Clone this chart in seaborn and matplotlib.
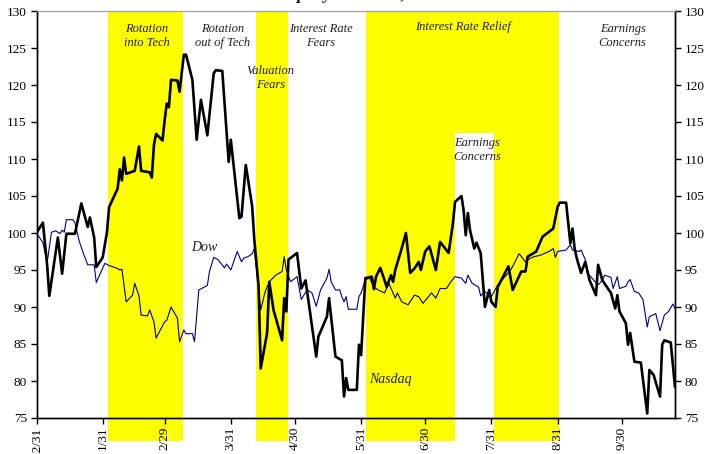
import pandas as pd
import matplotlib.pyplot as plt
import seaborn as sns

# days after 12/31/1999, index level (12/31/1999 = 100)
nasdaq_days = [0, 3, 5, 6, 8, 10, 12, 14, 18, 21, 24, 25, 27, 28, 31, 33, 34, 38, 39, 40,
               41, 42, 46, 48, 49, 53, 54, 55, 56, 59, 60, 61, 62, 63, 66, 67, 69, 70, 73, 75,
               77, 80, 83, 84, 87, 90, 91, 95, 96, 98, 101, 102, 104, 105, 108, 109, 111, 115,
               116, 117, 118, 122, 124, 126, 131, 132, 136, 137, 140, 143, 144, 145, 146, 150,
               151, 152, 154, 157, 158, 159, 161, 163, 164, 166, 167, 168, 171, 173, 175, 177,
               179, 180, 182, 184, 187, 189, 193, 195, 196, 199, 200, 201, 202, 203, 205, 206,
               208, 210, 212, 213, 215, 216, 221, 223, 227, 229, 230, 234, 237, 242, 244, 245,
               248, 250, 251, 252, 253, 255, 257, 259, 262, 263, 265, 269, 271, 272, 273, 276,
               277, 278, 280, 283, 286, 287, 289, 292, 293, 294, 297, 299]
nasdaq_vals = [100.0, 101.4, 95.6, 91.5, 95.4, 99.4, 94.5, 99.9, 99.9, 104.0, 100.8, 102.1, 99.4,
               95.4, 96.7, 100.1, 103.5, 106.0, 108.6, 107.1, 110.2, 108.0, 108.4, 111.7, 108.4,
               108.2, 107.5, 111.9, 113.4, 112.5, 115.2, 117.5, 117.0, 120.7, 120.6, 119.1, 124.1,
               124.1, 120.7, 112.6, 118.0, 113.2, 121.6, 122.0, 121.9, 109.6, 112.6, 102.0, 102.2,
               109.2, 103.6, 99.1, 92.8, 81.7, 86.5, 93.4, 89.6, 85.5, 91.2, 89.4, 96.4, 97.3,
               92.5, 93.6, 83.3, 86.0, 88.7, 91.2, 83.3, 82.8, 77.9, 80.4, 78.8, 78.8, 84.9, 83.5,
               93.9, 94.1, 92.4, 94.1, 95.3, 93.6, 92.7, 94.3, 93.4, 95.0, 97.9, 100.0, 94.6,
               95.2, 96.1, 95.0, 97.5, 98.2, 95.0, 98.8, 97.3, 101.3, 104.2, 105.0, 103.1, 99.7,
               102.7, 100.4, 97.9, 98.7, 97.3, 90.0, 92.3, 90.7, 90.0, 92.7, 95.5, 92.3, 94.8,
               94.8, 96.8, 97.5, 99.5, 100.6, 103.5, 104.1, 104.1, 98.6, 100.6, 97.9, 96.6, 94.6,
               96.1, 93.6, 91.6, 95.7, 93.6, 91.9, 89.8, 91.6, 89.4, 87.8, 84.9, 86.5, 82.6, 82.5,
               75.6, 81.5, 80.8, 77.9, 84.9, 85.5, 85.2, 79.2]

dow_days = [0, 3, 5, 7, 9, 11, 12, 13, 14, 17, 18, 20, 22, 24, 27, 28, 32, 34, 38, 39,
            40, 41, 42, 45, 46, 48, 49, 52, 53, 55, 56, 60, 61, 63, 66, 67, 69, 70, 73, 74,
            76, 80, 81, 83, 85, 88, 89, 91, 94, 96, 97, 99, 101, 102, 105, 107, 109, 112, 115,
            116, 117, 119, 122, 124, 126, 127, 129, 131, 133, 136, 137, 138, 140, 142, 143,
            144, 145, 146, 150, 151, 152, 154, 156, 158, 160, 163, 165, 168, 169, 171, 174,
            177, 179, 181, 185, 187, 189, 192, 194, 196, 199, 201, 202, 204, 207, 208, 210,
            212, 213, 216, 220, 222, 223, 226, 229, 230, 233, 236, 240, 242, 243, 244, 248,
            250, 251, 254, 255, 257, 258, 261, 263, 265, 266, 269, 270, 272, 273, 276, 277,
            278, 280, 282, 284, 286, 287, 290, 292, 294, 296, 298, 299]
dow_vals = [100.0, 98.7, 96.0, 100.1, 100.3, 99.9, 100.4, 100.1, 101.8, 101.8, 101.4, 98.9,
            97.2, 95.7, 95.7, 93.3, 95.9, 95.6, 95.2, 95.0, 95.1, 92.9, 90.7, 91.6, 93.2, 91.5,
            88.9, 88.8, 89.6, 88.0, 85.8, 88.0, 88.2, 90.0, 88.5, 85.3, 86.9, 86.4, 86.4, 85.3,
            92.3, 92.9, 94.8, 96.7, 96.4, 95.3, 95.8, 95.0, 97.5, 96.1, 96.6, 96.8, 97.2, 97.9,
            89.6, 92.0, 93.4, 94.3, 94.8, 96.8, 95.0, 93.4, 94.1, 91.0, 92.0, 92.3, 91.9, 90.1,
            92.3, 93.9, 95.1, 93.4, 92.3, 92.3, 91.4, 90.7, 91.4, 89.7, 89.7, 91.4, 91.9, 93.7,
            93.9, 92.7, 92.3, 91.9, 93.2, 91.2, 91.9, 90.7, 90.3, 91.6, 91.4, 90.5, 91.9, 91.2,
            92.5, 92.5, 93.4, 94.1, 93.9, 93.2, 94.3, 93.2, 92.7, 91.5, 92.1, 91.5, 91.4, 93.0,
            94.3, 95.0, 95.5, 97.2, 96.1, 96.4, 96.8, 97.0, 97.5, 97.9, 96.7, 97.5, 97.7, 98.4,
            97.7, 97.5, 97.7, 96.4, 94.6, 93.6, 93.0, 93.6, 94.3, 94.0, 92.5, 94.1, 92.5, 92.8,
            93.4, 93.7, 92.1, 91.9, 91.0, 87.3, 88.7, 89.1, 86.8, 88.9, 89.4, 90.4, 89.8]

# market phases (days after 12/31/1999), shaded yellow
phase_start = [33.5, 102.8, 154.3, 214.3]
phase_end = [68.6, 117.8, 196.0, 244.7]
# july gap: only the top strip above this level stays yellow
gap_start, gap_end, gap_floor = 196.0, 214.3, 113.5

tick_dates = ['1999-12-31', '2000-01-31', '2000-02-29', '2000-03-31', '2000-04-30',
              '2000-05-31', '2000-06-30', '2000-07-31', '2000-08-31', '2000-09-30']
tick_labels = ['12/31', '1/31', '2/29', '3/31', '4/30', '5/31', '6/30', '7/31', '8/31', '9/30']

base = pd.Timestamp('1999-12-31')


def to_date(d):
    return base + pd.to_timedelta(d, unit='D')


nasdaq = pd.DataFrame({'date': to_date(pd.Series(nasdaq_days, dtype=float)), 'level': nasdaq_vals})
dow = pd.DataFrame({'date': to_date(pd.Series(dow_days, dtype=float)), 'level': dow_vals})

sns.set_theme(style='ticks')
plt.rcParams['font.family'] = ['Liberation Serif', 'DejaVu Serif']

fig = plt.figure(figsize=(7.15, 4.54), dpi=100)
ax = fig.add_axes([36.5 / 715, 1 - 418 / 454, 638.5 / 715, 407 / 454])

sns.lineplot(data=dow, x='date', y='level', ax=ax, color='#000080', lw=0.8, zorder=3)
sns.lineplot(data=nasdaq, x='date', y='level', ax=ax, color='black', lw=1.9, zorder=4)

ylo, yhi = 75, 130
for s, e in zip(phase_start, phase_end):
    ax.axvspan(to_date(s), to_date(e), ymin=-0.0565, ymax=1, color='#ffff00', lw=0,
               clip_on=False, zorder=0)
ax.axvspan(to_date(gap_start), to_date(gap_end), ymin=(gap_floor - ylo) / (yhi - ylo), ymax=1,
           color='#ffff00', lw=0, zorder=0)

ax.set_xlim(base, to_date(299))
ax.set_ylim(ylo, yhi)
ax.set_yticks(range(ylo, yhi + 1, 5))
ax.set_xticks(pd.to_datetime(tick_dates))
ax.set_xticklabels(tick_labels, rotation=90)
ax.set_xlabel('')
ax.set_ylabel('')
ax.tick_params(axis='both', direction='out', length=4, width=1, color='black',
               labelcolor='black')
ax.tick_params(axis='x', pad=2, labelsize=9.5)
ax.tick_params(axis='y', pad=3, labelsize=9.5)

ax2 = ax.twinx()
ax2.set_ylim(ylo, yhi)
ax2.set_yticks(range(ylo, yhi + 1, 5))
ax2.tick_params(axis='y', direction='out', length=4, width=1, color='black',
                labelsize=9.5, labelcolor='black', pad=3)

for a in (ax, ax2):
    for side in ('left', 'right', 'bottom'):
        a.spines[side].set_color('black')
        a.spines[side].set_linewidth(1)
    a.spines['top'].set_color('#a0a0a0')
    a.spines['top'].set_linewidth(0.8)

notes = [
    (0.173, 0.9386, 'Rotation\ninto Tech'),
    (0.291, 0.9386, 'Rotation\nout of Tech'),
    (0.3665, 0.835, 'Valuation\nFears'),
    (0.4456, 0.9386, 'Interest Rate\nFears'),
    (0.668, 0.961, 'Interest Rate Relief'),
    (0.918, 0.9386, 'Earnings\nConcerns'),
    (0.6907, 0.6585, 'Earnings\nConcerns'),
    (0.2623, 0.4177, 'Dow'),
    (0.555, 0.0934, 'Nasdaq'),
]
for fx, fy, txt in notes:
    size = 10 if txt in ('Dow', 'Nasdaq') else 9
    ax.text(fx, fy, txt, transform=ax.transAxes, ha='center', va='center',
            fontsize=size, style='italic', color='#222222', linespacing=1.25, zorder=5)

# title sits mostly above the top edge, as in the source image
fig.text(0.487, 1 + 1 / 454, 'US Equity Markets, 2000', ha='center', va='baseline',
         fontsize=13, fontweight='bold')

fig.savefig('out.png', dpi=100)
